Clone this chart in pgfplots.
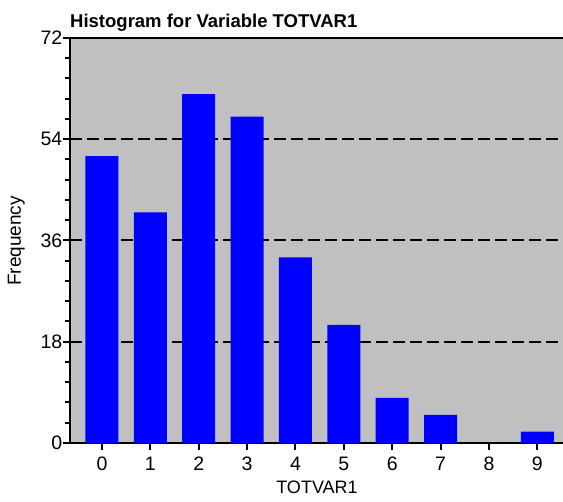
\documentclass[border=0pt]{standalone}
\usepackage{fontspec}
\setmainfont{Liberation Sans}
\usepackage{pgfplots}
\pgfplotsset{compat=1.18}
\definecolor{plotbg}{RGB}{192,192,192}
\begin{document}
\begin{tikzpicture}
\begin{axis}[
  at={(0pt,0pt)}, anchor=south west,
  scale only axis, width=494pt, height=405pt,
  xmin=-0.66, xmax=9.55, ymin=0, ymax=72,
  axis background/.style={fill=plotbg},
  axis line style={line width=2.5pt, black},
  ybar, bar width=33pt,
  ytick={0,18,36,54,72}, minor tick num=4,
  xtick={0,1,2,3,4,5,6,7,8,9},
  tick align=outside, tick pos=left,
  major tick length=7pt, minor tick length=5pt,
  every tick/.style={line width=2pt, black},
  minor x tick num=0,
  ymajorgrids,
  grid style={black, line width=2pt, dash pattern=on 12pt off 5pt},
  /pgf/number format/assume math mode=true,
  ticklabel style={font=\fontsize{19.5}{21}\selectfont},
  yticklabel style={inner sep=0.5pt},
  xticklabel style={inner sep=0pt, anchor=base, yshift=-21pt},
]
\addplot[fill=blue, draw=none] coordinates {
  (0,51) (1,41) (2,62) (3,58) (4,33) (5,21) (6,8) (7,5) (8,0) (9,2)
};
\end{axis}
\node[anchor=base west, inner sep=0pt, font=\bfseries\fontsize{18.5}{21}\selectfont] at (0pt,415pt) {Histogram for Variable TOTVAR1};
\node[anchor=base, inner sep=0pt, font=\fontsize{18}{20}\selectfont] at (247pt,-51pt) {TOTVAR1};
\node[anchor=base, rotate=90, inner sep=0pt, font=\fontsize{19}{21}\selectfont] at (-49pt,202pt) {Frequency};
\pgfresetboundingbox
\useasboundingbox (-70pt,-59pt) rectangle (493pt,443pt);
\end{tikzpicture}
\end{document}
